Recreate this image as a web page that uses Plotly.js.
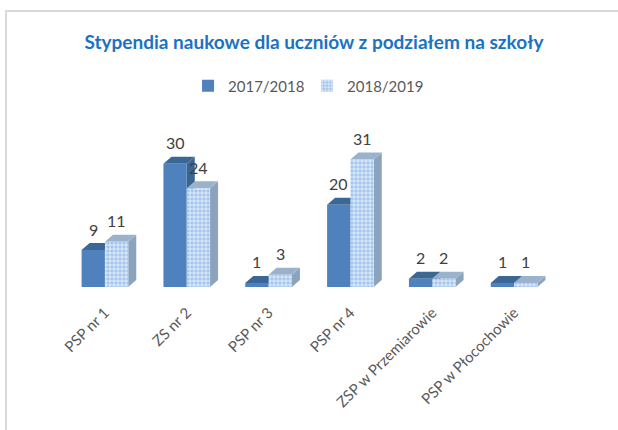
<!DOCTYPE html>
<html>
<head>
<meta charset="utf-8">
<script src="https://cdn.plot.ly/plotly-3.0.1.min.js"></script>
<style>
  html, body { margin: 0; padding: 0; background: #ffffff; }
  #frame { position: absolute; left: 5px; top: 10px; width: 700px; height: 500px;
           border-left: 2px solid #d9d9d9; border-top: 2px solid #d9d9d9; }
  #chart { position: absolute; left: 0; top: 0; width: 618px; height: 430px; }
</style>
</head>
<body>
<div id="frame"></div>
<div id="chart"></div>
<script>
const categories = ["PSP nr 1", "ZS nr 2", "PSP nr 3", "PSP nr 4", "ZSP w Przemiarowie", "PSP w Płocochowie"];
const series2017 = [9, 30, 1, 20, 2, 1];
const series2018 = [11, 24, 3, 31, 2, 1];
const seriesNames = ["2017/2018", "2018/2019"];

const idx = categories.map((_, i) => i);
const barW = 0.285;       // width of one bar in category units
const depthX = 0.098;     // 3D depth offset (x, category units)
const depthY = 1.7;       // 3D depth offset (y, value units)
const FONT = "Lato, 'Open Sans', sans-serif";

const traces = [
  {
    type: "bar", name: seriesNames[0], x: idx, y: series2017,
    marker: { color: "#4f81bd", line: { width: 0 } },
    hoverinfo: "skip"
  },
  {
    type: "bar", name: seriesNames[1], x: idx, y: series2018,
    marker: {
      color: "#a3c4ec",
      line: { width: 0 },
      pattern: { shape: "+", fillmode: "replace", bgcolor: "#a3c4ec", fgcolor: "#ffffff", size: 4, solidity: 0.3 }
    },
    hoverinfo: "skip"
  }
];

function faces(vals, offset, topColor, sideColor) {
  const out = [];
  vals.forEach((v, i) => {
    const x0 = i + offset, x1 = x0 + barW;
    out.push({
      type: "path", xref: "x", yref: "y", layer: "below", line: { width: 0 },
      fillcolor: sideColor,
      path: `M ${x1} 0 L ${x1} ${v} L ${x1 + depthX} ${v + depthY} L ${x1 + depthX} ${depthY} Z`
    });
    out.push({
      type: "path", xref: "x", yref: "y", layer: "below", line: { width: 0 },
      fillcolor: topColor,
      path: `M ${x0} ${v} L ${x1} ${v} L ${x1 + depthX} ${v + depthY} L ${x0 + depthX} ${v + depthY} Z`
    });
  });
  return out;
}

const shapes = [].concat(
  faces(series2017, -barW, "#3b6795", "#3a6592"),
  faces(series2018, 0, "#9bb2cc", "#8ca3bd")
);

const annotations = [];
series2017.forEach((v, i) => annotations.push({
  x: i - barW / 2, y: v, xref: "x", yref: "y", text: String(v), showarrow: false,
  yanchor: "middle", yshift: 21, font: { family: FONT, size: 16, color: "#404040" }
}));
series2018.forEach((v, i) => annotations.push({
  x: i + barW / 2, y: v, xref: "x", yref: "y", text: String(v), showarrow: false,
  yanchor: "middle", yshift: 21, font: { family: FONT, size: 16, color: "#404040" }
}));

const layout = {
  width: 618, height: 430,
  paper_bgcolor: "rgba(0,0,0,0)", plot_bgcolor: "rgba(0,0,0,0)",
  margin: { l: 64, r: 63, t: 139, b: 143 },
  title: {
    text: "Stypendia naukowe dla uczniów z podziałem na szkoły",
    font: { family: FONT, size: 19, color: "#1a72c4", weight: "bold" },
    x: 0.508, xanchor: "center", xref: "container",
    y: 1 - 42 / 430, yanchor: "middle", yref: "container"
  },
  barmode: "group", bargap: 0.43, bargroupgap: 0,
  showlegend: true,
  legend: {
    orientation: "h", x: 0.495, xanchor: "center", y: 1 - 86 / 430, yanchor: "middle",
    yref: "container",
    font: { family: FONT, size: 15, color: "#595959" },
    itemwidth: 30, entrywidth: 74, traceorder: "normal"
  },
  xaxis: {
    type: "linear", range: [-0.5, 5.5], tickmode: "array", tickvals: idx, ticktext: categories,
    tickangle: -45, showgrid: false, zeroline: false, showline: false, ticks: "",
    ticklabelstandoff: 13,
    tickfont: { family: FONT, size: 15, color: "#595959" },
    fixedrange: true
  },
  yaxis: {
    range: [0, 36], showgrid: false, zeroline: false, showline: false, showticklabels: false, ticks: "",
    fixedrange: true
  },
  shapes: shapes,
  annotations: annotations
};

Plotly.newPlot("chart", traces, layout, { displayModeBar: false, staticPlot: true });
</script>
</body>
</html>
